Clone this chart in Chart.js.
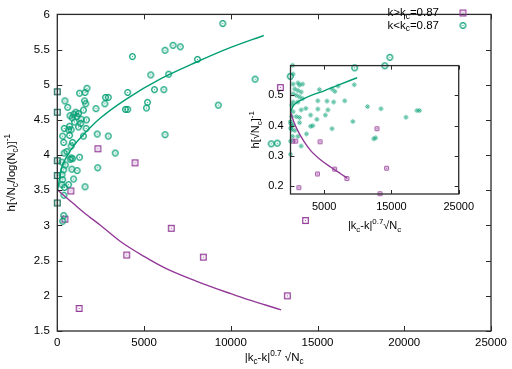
<!DOCTYPE html>
<html>
<head>
<meta charset="utf-8">
<script src="https://cdn.jsdelivr.net/npm/chart.js@4.4.1/dist/chart.umd.min.js"></script>
<style>
  body { margin: 0; background: #fff; }
  #wrap { position: relative; width: 512px; height: 369px; }
  #main { position: absolute; left: 0; top: 0; }
  #inset { position: absolute; left: 240px; top: 52px; }
</style>
</head>
<body>
<div id="wrap">
  <canvas id="main" width="512" height="369"></canvas>
  <canvas id="inset" width="240" height="190"></canvas>
</div>
<script>
const TEAL = '#009e73';
const PURPLE = '#933a98';
const DARK = '#1e6b5c';
const FONT = '"Liberation Sans", Arial, sans-serif';

// main panel: k > kc (squares)
const mainAbove = [
  [2340, 4.09], [4480, 3.89], [780, 3.49], [440, 3.09], [1260, 1.82], [4000, 2.58],
  [6570, 2.96], [8420, 2.55], [14310, 3.07], [13260, 2.00], [12860, 4.96]
];
// points sitting on the left axis (x = 0)
const mainAtZero = [4.90, 4.61, 3.92, 3.71, 3.32];
// main panel: k < kc (circles)
const mainBelow = [
  [9540, 5.87], [4330, 5.40], [6210, 5.49], [6670, 5.56], [7090, 5.54], [8080, 5.36],
  [5390, 5.14], [6420, 5.15], [5600, 4.93], [6140, 4.93], [4060, 4.89], [5200, 4.75],
  [5140, 4.67], [3930, 4.65], [4060, 4.65], [9280, 4.71], [11400, 5.08], [6210, 4.29],
  [3340, 4.03], [2330, 3.82], [2300, 4.30], [2940, 4.27], [2230, 4.66], [2740, 4.73],
  [2780, 4.82], [2940, 4.82], [12330, 4.16], [12680, 4.17], [17140, 5.24], [18880, 5.27],
  [19170, 5.39], [13430, 5.12],
  [440, 4.77], [600, 4.68], [1280, 4.88], [1600, 4.89], [1710, 4.95], [1570, 4.77],
  [1640, 4.73], [1510, 4.64], [1070, 4.61], [1220, 4.59], [950, 4.58], [730, 4.56],
  [1130, 4.55], [860, 4.53], [1370, 4.51], [1680, 4.50], [1350, 4.45], [990, 4.47],
  [1220, 4.40], [1660, 4.38], [710, 4.41], [400, 4.38], [650, 4.36], [800, 4.36],
  [310, 4.27], [710, 4.28], [1510, 4.27], [880, 4.18], [370, 4.18], [800, 4.13],
  [550, 4.05], [400, 4.03], [1280, 3.97], [800, 3.96], [270, 3.90], [740, 3.94],
  [880, 3.95], [460, 3.86], [370, 3.79], [840, 3.80], [1140, 3.78], [270, 3.72],
  [310, 3.65], [940, 3.66], [270, 3.58], [650, 3.58], [1600, 3.55], [420, 3.54],
  [380, 3.43], [370, 3.14], [310, 3.06]
];
// fitted curves, main panel
const mainCurveBelowX = [0, 250, 500, 1000, 1500, 2500, 4000, 6000, 8000, 10000, 11900];
const mainCurveBelowY = [3.48, 3.82, 3.96, 4.15, 4.29, 4.53, 4.80, 5.09, 5.32, 5.53, 5.70];
const mainCurveAboveX = [0, 500, 840, 1600, 2500, 3600, 5000, 6250, 8000, 10000, 11000, 12000, 12900];
const mainCurveAboveY = [3.51, 3.40, 3.33, 3.17, 3.00, 2.78, 2.56, 2.39, 2.21, 2.03, 1.945, 1.87, 1.80];

// inset panel
const insetAbove = [
  [310, 0.349], [780, 0.349], [4400, 0.347], [6550, 0.257], [8380, 0.226], [4010, 0.241],
  [1240, 0.196], [12850, 0.390], [14280, 0.260], [13310, 0.176]
];
const insetBelow = [
  [310, 0.599], [390, 0.570], [390, 0.537], [1100, 0.541], [1340, 0.534], [1800, 0.537],
  [630, 0.521], [1100, 0.516], [1580, 0.511], [390, 0.505], [870, 0.500], [1340, 0.495],
  [1800, 0.489], [390, 0.478], [1100, 0.478], [170, 0.468], [1580, 0.452], [2280, 0.457],
  [390, 0.446], [870, 0.430], [170, 0.430], [1340, 0.427], [0, 0.414], [170, 0.398],
  [170, 0.387], [0, 0.349], [0, 0.306], [1580, 0.333], [2370, 0.373], [4300, 0.519],
  [2990, 0.435], [4060, 0.482], [4060, 0.455], [3920, 0.421], [2990, 0.398], [3310, 0.400],
  [5180, 0.435], [5560, 0.452], [5420, 0.481], [6410, 0.478], [6170, 0.521], [6590, 0.513],
  [7070, 0.531], [6170, 0.390], [8060, 0.482], [9470, 0.535], [9270, 0.414], [11440, 0.463],
  [13450, 0.456], [12370, 0.357], [12650, 0.360], [17160, 0.428], [18800, 0.450], [19180, 0.450],
  [0, 0.408], [390, 0.403], [1340, 0.410], [0, 0.392], [630, 0.384], [310, 0.365], [1100, 0.365]
];
const insetCurveBelowX = [0, 400, 900, 1600, 3000, 5000, 7000, 9900];
const insetCurveBelowY = [0.445, 0.465, 0.476, 0.485, 0.499, 0.515, 0.533, 0.558];
const insetCurveAboveX = [0, 500, 1000, 2000, 3000, 4500, 6000, 7500, 8400];
const insetCurveAboveY = [0.445, 0.412, 0.387, 0.348, 0.318, 0.287, 0.263, 0.241, 0.228];

const mainXTicks = [0, 5000, 10000, 15000, 20000, 25000];
const insetXTicks = [5000, 15000, 25000];
const insetYTicks = [0.2, 0.3, 0.4, 0.5];

const pts = (arr) => arr.map(([x, y]) => ({ x, y }));
const zip = (xs, ys) => xs.map((x, i) => ({ x, y: ys[i] }));

function marker(shape, r, color, lw) {
  const size = Math.ceil(2 * r + lw + 2);
  const c = document.createElement('canvas');
  c.width = size;
  c.height = size;
  const g = c.getContext('2d');
  const m = size / 2;
  g.strokeStyle = color;
  g.fillStyle = color;
  g.lineWidth = lw;
  g.beginPath();
  if (shape === 'circle') g.arc(m, m, r, 0, Math.PI * 2);
  else g.rect(m - r, m - r, 2 * r, 2 * r);
  g.stroke();
  g.beginPath();
  g.arc(m, m, 0.6, 0, Math.PI * 2);
  g.fill();
  return c;
}

// text with sub (-1) and superscript (1) pieces
function richWidth(ctx, segs, size) {
  let w = 0;
  segs.forEach(([t, k]) => {
    ctx.font = `${k ? size * 0.72 : size}px ${FONT}`;
    w += ctx.measureText(t).width;
  });
  return w;
}

function drawRich(ctx, segs, x, y, size, align) {
  ctx.save();
  ctx.fillStyle = '#000';
  ctx.textBaseline = 'middle';
  ctx.textAlign = 'left';
  const w = richWidth(ctx, segs, size);
  let cx = align === 'right' ? x - w : align === 'center' ? x - w / 2 : x;
  segs.forEach(([t, k]) => {
    ctx.font = `${k ? size * 0.72 : size}px ${FONT}`;
    const dy = k === -1 ? size * 0.32 : k === 1 ? -size * 0.38 : 0;
    ctx.fillText(t, cx, y + dy);
    cx += ctx.measureText(t).width;
  });
  ctx.restore();
}

function drawFrame(chart, len) {
  const { ctx, chartArea: a, scales } = chart;
  ctx.save();
  ctx.strokeStyle = '#2a2a2a';
  ctx.lineWidth = 1.3;
  ctx.strokeRect(a.left, a.top, a.right - a.left, a.bottom - a.top);
  ctx.lineWidth = 1;
  ctx.beginPath();
  scales.x.ticks.forEach((t) => {
    const p = Math.round(scales.x.getPixelForValue(t.value)) + 0.5;
    ctx.moveTo(p, a.bottom); ctx.lineTo(p, a.bottom - len);
    ctx.moveTo(p, a.top); ctx.lineTo(p, a.top + len);
  });
  scales.y.ticks.forEach((t) => {
    const p = Math.round(scales.y.getPixelForValue(t.value)) + 0.5;
    ctx.moveTo(a.left, p); ctx.lineTo(a.left + len, p);
    ctx.moveTo(a.right, p); ctx.lineTo(a.right - len, p);
  });
  ctx.stroke();
  ctx.restore();
}

const xTitleMain = [['|k', 0], ['c', -1], ['-k|', 0], ['0.7', 1], [' \u221aN', 0], ['c', -1]];
const xTitleInset = [['|k', 0], ['c', -1], ['-k|', 0], ['0.7', 1], ['\u221aN', 0], ['c', -1]];
const yTitleMain = [['h[\u221aN', 0], ['c', -1], ['/log(N', 0], ['c', -1], [')]', 0], ['-1', 1]];
const yTitleInset = [['h[\u221aN', 0], ['c', -1], [']', 0], ['-1', 1]];
const legendAbove = [['k>k', 0], ['c', -1], ['=0.87', 0]];
const legendBelow = [['k<k', 0], ['c', -1], ['=0.87', 0]];

const mainDeco = {
  id: 'mainDeco',
  afterDraw(chart) {
    const { ctx, chartArea: a } = chart;
    drawFrame(chart, 5);
    drawRich(ctx, xTitleMain, (a.left + a.right) / 2, 358, 11.5, 'center');
    ctx.save();
    ctx.translate(12, (a.top + a.bottom) / 2);
    ctx.rotate(-Math.PI / 2);
    drawRich(ctx, yTitleMain, 0, 0, 11.5, 'center');
    ctx.restore();
    drawRich(ctx, legendAbove, 439, 13, 11.5, 'right');
    drawRich(ctx, legendBelow, 439, 25.5, 11.5, 'right');
    const sq = marker('square', 2.8, PURPLE, 1.2);
    const ci = marker('circle', 2.8, TEAL, 1.2);
    ctx.drawImage(sq, 463 - sq.width / 2, 13 - sq.height / 2);
    ctx.drawImage(ci, 463 - ci.width / 2, 25.5 - ci.height / 2);
  },
};

const insetDeco = {
  id: 'insetDeco',
  afterDraw(chart) {
    const { ctx, chartArea: a } = chart;
    drawFrame(chart, 4);
    drawRich(ctx, xTitleInset, (a.left + a.right) / 2, a.bottom + 32, 11, 'center');
    ctx.save();
    ctx.translate(16, (a.top + a.bottom) / 2);
    ctx.rotate(-Math.PI / 2);
    drawRich(ctx, yTitleInset, 0, 0, 11, 'center');
    ctx.restore();
  },
};

function axis(min, max, opts) {
  return {
    type: 'linear',
    min,
    max,
    grid: { display: false, drawTicks: false },
    border: { display: false },
    ticks: {
      color: '#000',
      font: { family: FONT, size: opts.size },
      padding: opts.padding,
      stepSize: opts.step,
      callback: (v) => String(+Number(v).toFixed(2)),
    },
    afterFit: opts.fit,
    afterBuildTicks: opts.ticks ? (s) => { s.ticks = opts.ticks.map((value) => ({ value })); } : undefined,
  };
}

function pointSet(data, shape, r, color, lw) {
  return {
    type: 'scatter',
    data,
    pointStyle: marker(shape, r, color, lw),
    pointRadius: 3,
    clip: false,
  };
}

function curveSet(data, color) {
  return {
    type: 'scatter',
    data,
    showLine: true,
    borderColor: color,
    borderWidth: 1.4,
    pointRadius: 0,
    cubicInterpolationMode: 'monotone',
  };
}

new Chart(document.getElementById('main'), {
  type: 'scatter',
  data: {
    datasets: [
      curveSet(zip(mainCurveBelowX, mainCurveBelowY), TEAL),
      curveSet(zip(mainCurveAboveX, mainCurveAboveY), PURPLE),
      pointSet(pts(mainBelow), 'circle', 2.8, TEAL, 1.2),
      pointSet(mainAtZero.map((y) => ({ x: 0, y })), 'square', 2.8, DARK, 1.3),
      pointSet(pts(mainAbove), 'square', 2.8, PURPLE, 1.2),
    ],
  },
  options: {
    responsive: false,
    animation: false,
    events: [],
    layout: { autoPadding: false, padding: { top: 4.7, right: 17.5, left: 0, bottom: 0 } },
    plugins: { legend: { display: false }, tooltip: { enabled: false } },
    scales: {
      x: axis(0, 25000, { size: 11.5, padding: 5, ticks: mainXTicks, fit: (s) => { s.height = 38; } }),
      y: axis(1.5, 6, { size: 11.5, padding: 7.5, step: 0.5, fit: (s) => { s.width = 57.3; } }),
    },
  },
  plugins: [mainDeco],
});

new Chart(document.getElementById('inset'), {
  type: 'scatter',
  data: {
    datasets: [
      curveSet(zip(insetCurveBelowX, insetCurveBelowY), TEAL),
      curveSet(zip(insetCurveAboveX, insetCurveAboveY), PURPLE),
      pointSet(pts(insetBelow), 'circle', 1.6, TEAL, 1),
      pointSet(pts(insetAbove), 'square', 1.8, PURPLE, 1),
    ],
  },
  options: {
    responsive: false,
    animation: false,
    events: [],
    layout: { autoPadding: false, padding: { top: 10.3, right: 12, left: 0, bottom: 0 } },
    plugins: { legend: { display: false }, tooltip: { enabled: false } },
    scales: {
      x: axis(0, 25000, { size: 11, padding: 6, ticks: insetXTicks, fit: (s) => { s.height = 48; } }),
      y: axis(0.175, 0.598, { size: 11, padding: 7, ticks: insetYTicks, fit: (s) => { s.width = 50.5; } }),
    },
  },
  plugins: [insetDeco],
});
</script>
</body>
</html>
